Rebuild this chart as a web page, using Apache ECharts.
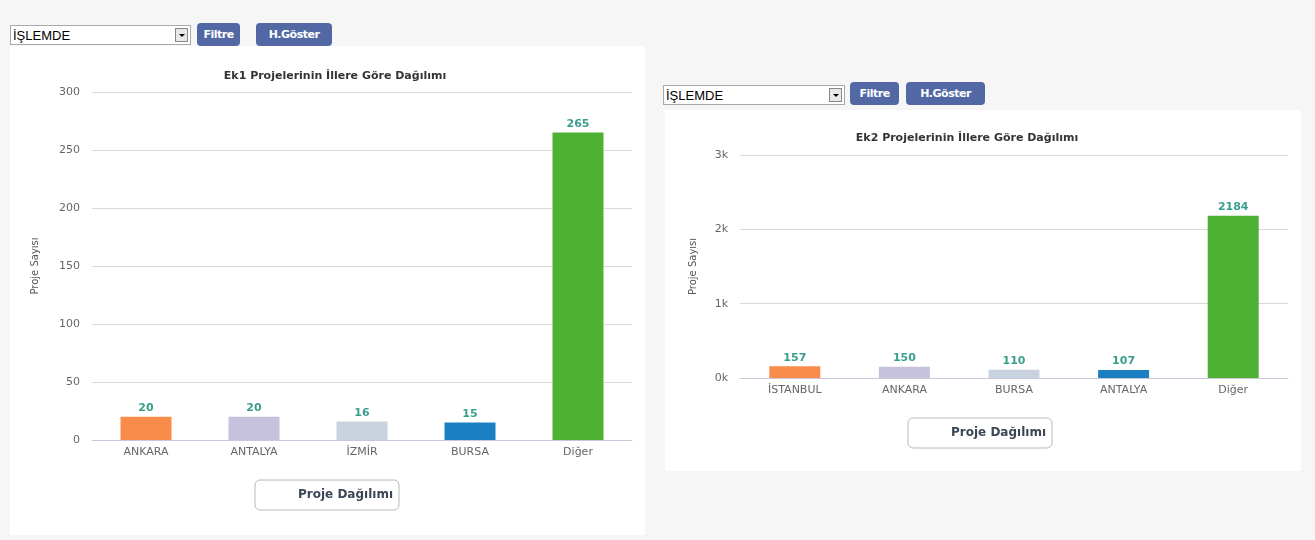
<!DOCTYPE html>
<html><head><meta charset="utf-8">
<script src="https://cdn.jsdelivr.net/npm/echarts@6/dist/echarts.min.js"></script>
<style>
html,body{margin:0;padding:0;width:1315px;height:540px;background:#f6f6f6;overflow:hidden;font-family:"DejaVu Sans",Verdana,sans-serif;}
.panel{position:absolute;background:#fff;}
.sel{position:absolute;height:20px;border:1px solid #a9a9a9;background:#fff;font:13px Arial,"Liberation Sans",sans-serif;color:#000;box-sizing:border-box;}
.sel span{position:absolute;left:2px;top:2px;}
.sel i{position:absolute;right:2px;top:2px;width:13px;height:14px;border:1px solid #888;background:#e8e8e8;box-sizing:border-box;}
.sel i:after{content:"";position:absolute;left:3px;top:5px;border-left:3px solid transparent;border-right:3px solid transparent;border-top:3px solid #000;}
.btn{position:absolute;height:23px;background:#5168a5;color:#fff;font:bold 11px "DejaVu Sans",sans-serif;line-height:23px;border-radius:4px;text-align:center;letter-spacing:-0.5px;}
#chart{position:absolute;left:0;top:0;width:1315px;height:540px;}
</style></head>
<body>
<div class="panel" style="left:10px;top:46px;width:635px;height:489px;"></div>
<div class="panel" style="left:665px;top:110px;width:636px;height:361px;"></div>
<div class="sel" style="left:10px;top:25px;width:181px;"><span>İŞLEMDE</span><i></i></div>
<div class="btn" style="left:197px;top:23px;width:43px;">Filtre</div>
<div class="btn" style="left:256px;top:23px;width:76px;">H.Göster</div>
<div class="sel" style="left:663px;top:85px;width:182px;"><span>İŞLEMDE</span><i></i></div>
<div class="btn" style="left:850px;top:82px;width:49px;">Filtre</div>
<div class="btn" style="left:906px;top:82px;width:79px;">H.Göster</div>
<div id="chart"></div>
<script>
const titles = ['Ek1 Projelerinin İllere Göre Dağılımı', 'Ek2 Projelerinin İllere Göre Dağılımı'];
const categories1 = ['ANKARA', 'ANTALYA', 'İZMİR', 'BURSA', 'Diğer'];
const values1 = [20, 20, 16, 15, 265];
const yTicks1 = [0, 50, 100, 150, 200, 250, 300];
const categories2 = ['İSTANBUL', 'ANKARA', 'BURSA', 'ANTALYA', 'Diğer'];
const values2 = [157, 150, 110, 107, 2184];
const yTicks2 = ['0k', '1k', '2k', '3k'];
const seriesName = 'Proje Dağılımı';
const yName = 'Proje Sayısı';
const barColors = ['#f98c4b', '#c6c2de', '#c8d3df', '#1a80c2', '#4db134'];

const chart = echarts.init(document.getElementById('chart'));
const axisLabel = {color: '#666', fontSize: 11, fontFamily: 'DejaVu Sans'};
function mkTitle(text, x, y) {
  return {text: text, left: x, top: y, textAlign: 'center',
    textStyle: {fontSize: 11, fontWeight: 'bold', color: '#333', fontFamily: 'DejaVu Sans'}};
}
function mkLegend(idx, left, top) {
  return {show: true, data: [seriesName], left: left, top: top, orient: 'horizontal',
    backgroundColor: '#fff', borderColor: '#b8b8b8', borderWidth: 1, borderRadius: 5,
    padding: [9, 6, 9, 10], itemWidth: 28, itemHeight: 12, itemGap: 0, icon: 'rect',
    itemStyle: {color: 'rgba(0,0,0,0)'},
    textStyle: {fontSize: 12, fontWeight: 'bold', color: '#3b4656', fontFamily: 'DejaVu Sans'},
    selectedMode: false};
}
function mkSeries(idx, values) {
  return {name: seriesName, type: 'bar', xAxisIndex: idx, yAxisIndex: idx, barWidth: 51,
    data: values.map((v, i) => ({value: v, itemStyle: {color: barColors[i]}})),
    itemStyle: {color: 'rgba(0,0,0,0)'},
    label: {show: true, position: 'top', distance: 3, color: '#3a9e8c', fontSize: 11, fontWeight: 'bold', fontFamily: 'DejaVu Sans'}};
}
chart.setOption({
  animation: false,
  title: [mkTitle(titles[0], 330, 66), mkTitle(titles[1], 962, 128)],
  legend: [mkLegend(0, 255, 480), mkLegend(1, 908, 418)],
  grid: [
    {left: 92, right: 683, top: 92, bottom: 100},
    {left: 740, right: 27, top: 155, bottom: 162}
  ],
  xAxis: [
    {type: 'category', gridIndex: 0, data: categories1, axisTick: {show: false},
      axisLine: {lineStyle: {color: '#c8c8d8'}}, axisLabel: Object.assign({margin: 7}, axisLabel)},
    {type: 'category', gridIndex: 1, data: categories2, axisTick: {show: false},
      axisLine: {lineStyle: {color: '#c8c8d8'}}, axisLabel: Object.assign({margin: 7}, axisLabel)}
  ],
  yAxis: [
    {type: 'value', gridIndex: 0, min: yTicks1[0], max: yTicks1[yTicks1.length - 1], interval: 50,
      name: yName, nameLocation: 'middle', nameGap: 52, nameRotate: 90,
      nameTextStyle: {color: '#555', fontSize: 10, fontFamily: 'DejaVu Sans'},
      axisLine: {show: false}, axisTick: {show: false},
      splitLine: {lineStyle: {color: '#d8d8d8'}}, axisLabel: Object.assign({margin: 12}, axisLabel)},
    {type: 'value', gridIndex: 1, min: 0, max: (yTicks2.length - 1) * 1000, interval: 1000,
      name: yName, nameLocation: 'middle', nameGap: 42, nameRotate: 90,
      nameTextStyle: {color: '#555', fontSize: 10, fontFamily: 'DejaVu Sans'},
      axisLine: {show: false}, axisTick: {show: false},
      splitLine: {lineStyle: {color: '#d8d8d8'}},
      axisLabel: Object.assign({margin: 12, formatter: v => yTicks2[Math.round(v / 1000)]}, axisLabel)}
  ],
  series: [mkSeries(0, values1), mkSeries(1, values2)]
});
</script>
</body></html>
